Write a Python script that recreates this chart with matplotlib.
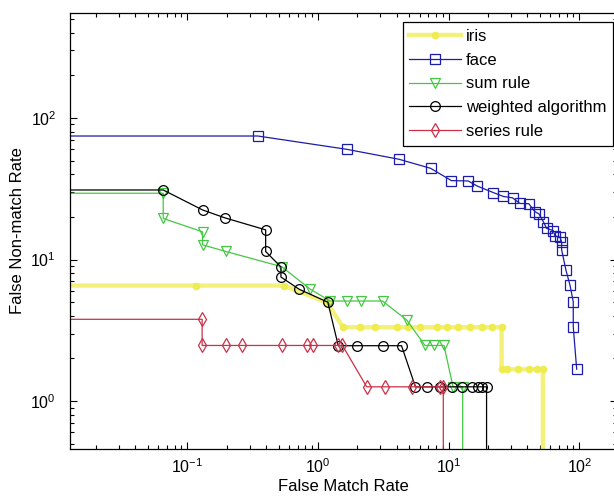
import matplotlib
matplotlib.use('Agg')
import matplotlib.pyplot as plt

plt.rcParams['font.family'] = ['Liberation Sans', 'DejaVu Sans']
plt.rcParams['mathtext.fontset'] = 'custom'
plt.rcParams['mathtext.rm'] = 'Liberation Sans'
plt.rcParams['mathtext.it'] = 'Liberation Sans:italic'
plt.rcParams['mathtext.default'] = 'regular'

# ---- data (FMR %, FNMR %) ; first/last points lie outside the visible range ----
iris_x = [0.001, 0.117, 0.549, 1.17, 1.56, 2.10, 2.73, 4.00, 4.88, 6.03, 8.09, 9.66,
          11.8, 14.6, 17.9, 21.3, 25.4, 25.4, 27.8, 34.1, 41.1, 47.8, 52.6, 52.6]
iris_y = [6.55, 6.55, 6.55, 4.97, 3.32, 3.32, 3.32, 3.32, 3.32, 3.32, 3.32, 3.32,
          3.32, 3.32, 3.32, 3.32, 3.32, 1.675, 1.675, 1.675, 1.675, 1.675, 1.675, 0.01]

face_x = [0.001, 0.347, 1.66, 4.17, 7.28, 10.5, 14.1, 16.6, 22.0, 26.2, 30.8, 35.1,
          41.0, 45.7, 49.1, 53.0, 56.2, 63.2, 65.0, 71.1, 73.2, 73.2, 78.9, 84.7,
          89.8, 89.8, 95.4]
face_y = [74.6, 74.6, 60.1, 51.1, 44.1, 36.1, 35.9, 33.0, 29.7, 27.9, 27.3, 24.9,
          24.8, 21.8, 21.0, 18.5, 16.6, 16.0, 14.7, 14.4, 13.3, 11.7, 8.43, 6.61,
          5.03, 3.35, 1.68]

sum_x = [0.001, 0.0655, 0.0655, 0.131, 0.131, 0.197, 0.528, 0.869, 1.24, 1.66, 2.13,
         3.12, 4.77, 6.59, 7.73, 9.21, 10.8, 12.8, 12.8]
sum_y = [29.4, 29.4, 19.5, 15.7, 12.7, 11.4, 8.90, 6.19, 5.09, 5.09, 5.09,
         5.09, 3.74, 2.47, 2.47, 2.47, 1.26, 1.26, 0.01]

weighted_x = [0.001, 0.0655, 0.131, 0.194, 0.398, 0.398, 0.521, 0.521, 0.719, 1.19,
              1.43, 2.0, 3.12, 4.36, 5.57, 6.79, 8.58, 10.6, 12.6, 15.0, 16.8, 17.9,
              19.5, 19.5]
weighted_y = [31.0, 31.0, 22.4, 19.7, 16.2, 11.4, 8.85, 7.52, 6.16, 4.99,
              2.46, 2.46, 2.46, 2.46, 1.26, 1.26, 1.26, 1.26, 1.26, 1.26, 1.26, 1.26,
              1.26, 0.01]

series_x = [0.001, 0.130, 0.130, 0.197, 0.261, 0.528, 0.831, 0.921, 1.43, 1.54,
            2.36, 3.28, 5.24, 8.58, 9.10, 9.10]
series_y = [3.78, 3.78, 2.47, 2.47, 2.47, 2.47, 2.47, 2.47, 2.47, 2.47,
            1.26, 1.26, 1.26, 1.26, 1.26, 0.01]

labels = ['iris', 'face', 'sum rule', 'weighted algorithm', 'series rule']

W, H = 614, 497
fig = plt.figure(figsize=(W / 100, H / 100), dpi=100)
ax = fig.add_axes([70 / W, (H - 449) / H, 547 / W, 436 / H])

ax.loglog(iris_x, iris_y, color='#f3f17a', lw=3.2, marker='o', ms=4.5,
          mec='#eeec50', mfc='#eeec50', label=labels[0])
ax.loglog(face_x, face_y, color='#1c1cac', lw=0.9, marker='s', ms=6.5, mfc='none',
          mec='#1c1cac', mew=0.9, label=labels[1])
ax.loglog(sum_x, sum_y, color='#44c844', lw=0.9, marker='v', ms=7, mfc='none',
          mec='#44c844', mew=0.9, label=labels[2])
ax.loglog(weighted_x, weighted_y, color='black', lw=0.9, marker='o', ms=7, mfc='none',
          mec='black', mew=0.9, label=labels[3])
ax.loglog(series_x, series_y, color='#cc3048', lw=0.9, marker='d', ms=7, mfc='none',
          mec='#cc3048', mew=0.9, label=labels[4])

ax.set_xlim(10 ** -1.897, 10 ** 2.288)
ax.set_ylim(10 ** -0.339, 10 ** 2.742)

ax.tick_params(which='both', direction='in', top=True, right=True, labelsize=11.5)
ax.tick_params(which='major', length=5, width=0.8, pad=6)
ax.tick_params(axis='y', which='major', pad=10)
ax.tick_params(which='minor', length=3, width=0.8)
for s in ax.spines.values():
    s.set_linewidth(0.9)

ax.set_xlabel('False Match Rate', fontsize=12, labelpad=2)
ax.set_ylabel('False Non-match Rate', fontsize=12, labelpad=4)

leg = ax.legend(loc='upper right', bbox_to_anchor=(0.993, 0.979), borderaxespad=0,
                fontsize=12, fancybox=False, framealpha=1, edgecolor='black',
                handlelength=3.1, handletextpad=0.3, labelspacing=0.53,
                borderpad=0.4, numpoints=1)
leg.get_frame().set_linewidth(0.9)

fig.savefig('out.png', dpi=100)
